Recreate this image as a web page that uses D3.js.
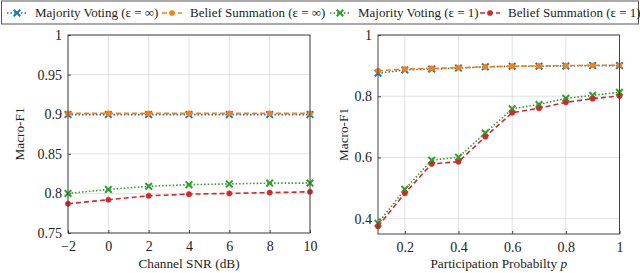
<!DOCTYPE html>
<html lang="en">
<head>
<meta charset="UTF-8">
<title>Macro-F1 vs SNR and participation</title>
<script src="https://d3js.org/d3.v7.min.js"></script>
<style>
  body { margin: 0; background: #fff; }
  .grid line { stroke: #dadada; stroke-width: 0.8; }
</style>
</head>
<body>
<svg width="640" height="273"></svg>
<script>
// left panel: channel SNR (dB)
const snr = [-2, 0, 2, 4, 6, 8, 10];
const snrMvInf = [0.8995, 0.8995, 0.8995, 0.8995, 0.8995, 0.8995, 0.8995];
const snrBsInf = [0.901, 0.901, 0.901, 0.901, 0.901, 0.901, 0.901];
const snrMv1 = [0.800, 0.805, 0.809, 0.811, 0.812, 0.813, 0.813];
const snrBs1 = [0.787, 0.792, 0.797, 0.799, 0.800, 0.801, 0.802];

// right panel: participation probability p
const prob = [0.1, 0.2, 0.3, 0.4, 0.5, 0.6, 0.7, 0.8, 0.9, 1.0];
const pMvInf = [0.875, 0.886, 0.889, 0.892, 0.896, 0.898, 0.898, 0.899, 0.900, 0.900];
const pBsInf = [0.883, 0.889, 0.891, 0.893, 0.896, 0.898, 0.899, 0.900, 0.901, 0.901];
const pMv1 = [0.385, 0.496, 0.591, 0.601, 0.680, 0.759, 0.773, 0.793, 0.803, 0.813];
const pBs1 = [0.375, 0.483, 0.579, 0.586, 0.668, 0.746, 0.761, 0.780, 0.792, 0.801];

const legendNames = ["Majority Voting (\u03b5 = \u221e)", "Belief Summation (\u03b5 = \u221e)",
                     "Majority Voting (\u03b5 = 1)", "Belief Summation (\u03b5 = 1)"];

const styles = [
  { color: "#1f77b4", dash: "1.5,2", marker: "x" },
  { color: "#ff7f0e", dash: "5,3", marker: "o" },
  { color: "#2ca02c", dash: "1.5,2", marker: "x" },
  { color: "#d62728", dash: "5,3", marker: "o" }
];

const FONT = "'Liberation Serif', 'Times New Roman', serif";
const svg = d3.select("svg");

function fmt(v) { return (v < 0 ? "\u2212" + (-v) : String(v)); }

function serif(sel, size) {
  return sel.style("font-family", FONT).style("font-size", size + "px").attr("fill", "#222");
}

function marker(g, kind, color, x, y) {
  if (kind === "x") {
    const s = 3.3;
    g.append("path")
      .attr("d", `M${x - s},${y - s}L${x + s},${y + s}M${x - s},${y + s}L${x + s},${y - s}`)
      .attr("stroke", color).attr("stroke-width", 2).attr("fill", "none");
  } else {
    g.append("circle").attr("cx", x).attr("cy", y).attr("r", 2.6)
      .attr("fill", color).attr("stroke", color).attr("stroke-width", 0.6);
  }
}

function panel(opt) {
  const x = d3.scaleLinear().domain(opt.xDomain).range([opt.left, opt.right]);
  const y = d3.scaleLinear().domain(opt.yDomain).range([opt.bottom, opt.top]);
  const g = svg.append("g");

  // grid
  const grid = g.append("g").attr("class", "grid");
  grid.selectAll(".gx").data(opt.xTicks).join("line")
    .attr("x1", d => x(d)).attr("x2", d => x(d)).attr("y1", opt.top).attr("y2", opt.bottom);
  grid.selectAll(".gy").data(opt.yTicks).join("line")
    .attr("y1", d => y(d)).attr("y2", d => y(d)).attr("x1", opt.left).attr("x2", opt.right);

  // axes
  const ax = g.append("g").attr("transform", `translate(0,${opt.bottom})`)
    .call(d3.axisBottom(x).tickValues(opt.xTicks).tickFormat(fmt).tickSize(-3).tickPadding(8));
  const ay = g.append("g").attr("transform", `translate(${opt.left},0)`)
    .call(d3.axisLeft(y).tickValues(opt.yTicks).tickFormat(d => String(d)).tickSize(-3).tickPadding(6));
  [ax, ay].forEach(a => {
    a.attr("font-family", null).attr("font-size", null);
    a.select(".domain").remove();
    a.selectAll(".tick line").attr("stroke", "#444");
    serif(a.selectAll(".tick text"), 14);
  });

  // series
  opt.series.forEach((vals, i) => {
    const st = styles[i];
    const pts = opt.xs.map((v, j) => [x(v), y(vals[j])]);
    g.append("path").attr("d", d3.line()(pts))
      .attr("fill", "none").attr("stroke", st.color).attr("stroke-width", 1.6)
      .attr("stroke-dasharray", st.dash);
    pts.forEach(p => marker(g, st.marker, st.color, p[0], p[1]));
  });

  // frame
  g.append("rect").attr("x", opt.left).attr("y", opt.top)
    .attr("width", opt.right - opt.left).attr("height", opt.bottom - opt.top)
    .attr("fill", "none").attr("stroke", "#444").attr("stroke-width", 1);

  serif(g.append("text"), 13.3).attr("text-anchor", "middle")
    .attr("transform", `translate(${opt.yLabelX},${(opt.top + opt.bottom) / 2}) rotate(-90)`)
    .text("Macro-F1");
  const xl = serif(g.append("text"), 13.3).attr("text-anchor", "middle")
    .attr("x", (opt.left + opt.right) / 2).attr("y", 268);
  xl.append("tspan").text(opt.xLabel);
  if (opt.xVar) xl.append("tspan").attr("font-style", "italic").text(opt.xVar);
  return g;
}

panel({
  left: 68, right: 310, top: 35, bottom: 233,
  xDomain: [-2, 10], yDomain: [0.75, 1],
  xTicks: snr, yTicks: [0.75, 0.8, 0.85, 0.9, 0.95, 1],
  xs: snr, series: [snrMvInf, snrBsInf, snrMv1, snrBs1],
  xLabel: "Channel SNR (dB)", yLabelX: 24
});

panel({
  left: 378, right: 619.5, top: 35, bottom: 234,
  xDomain: [0.1, 1], yDomain: [0.35, 1],
  xTicks: [0.2, 0.4, 0.6, 0.8, 1], yTicks: [0.4, 0.6, 0.8, 1],
  xs: prob, series: [pMvInf, pBsInf, pMv1, pBs1],
  xLabel: "Participation Probabilty ", xVar: "p", yLabelX: 348
});

// legend
const lg = svg.append("g");
lg.append("rect").attr("x", 1.5).attr("y", 1).attr("width", 637).attr("height", 23)
  .attr("fill", "#fff").attr("stroke", "#555").attr("stroke-width", 1);
const legX = [17, 172, 340, 490];
legendNames.forEach((name, i) => {
  const st = styles[i];
  const cx = legX[i], cy = 13;
  lg.append("path").attr("d", `M${cx - 10},${cy}H${cx + 10}`)
    .attr("stroke", st.color).attr("stroke-width", 1.6).attr("stroke-dasharray", st.dash);
  marker(lg, st.marker, st.color, cx, cy);
  serif(lg.append("text"), 13).attr("x", cx + 18).attr("y", cy + 4.3).text(name);
});
</script>
</body>
</html>
